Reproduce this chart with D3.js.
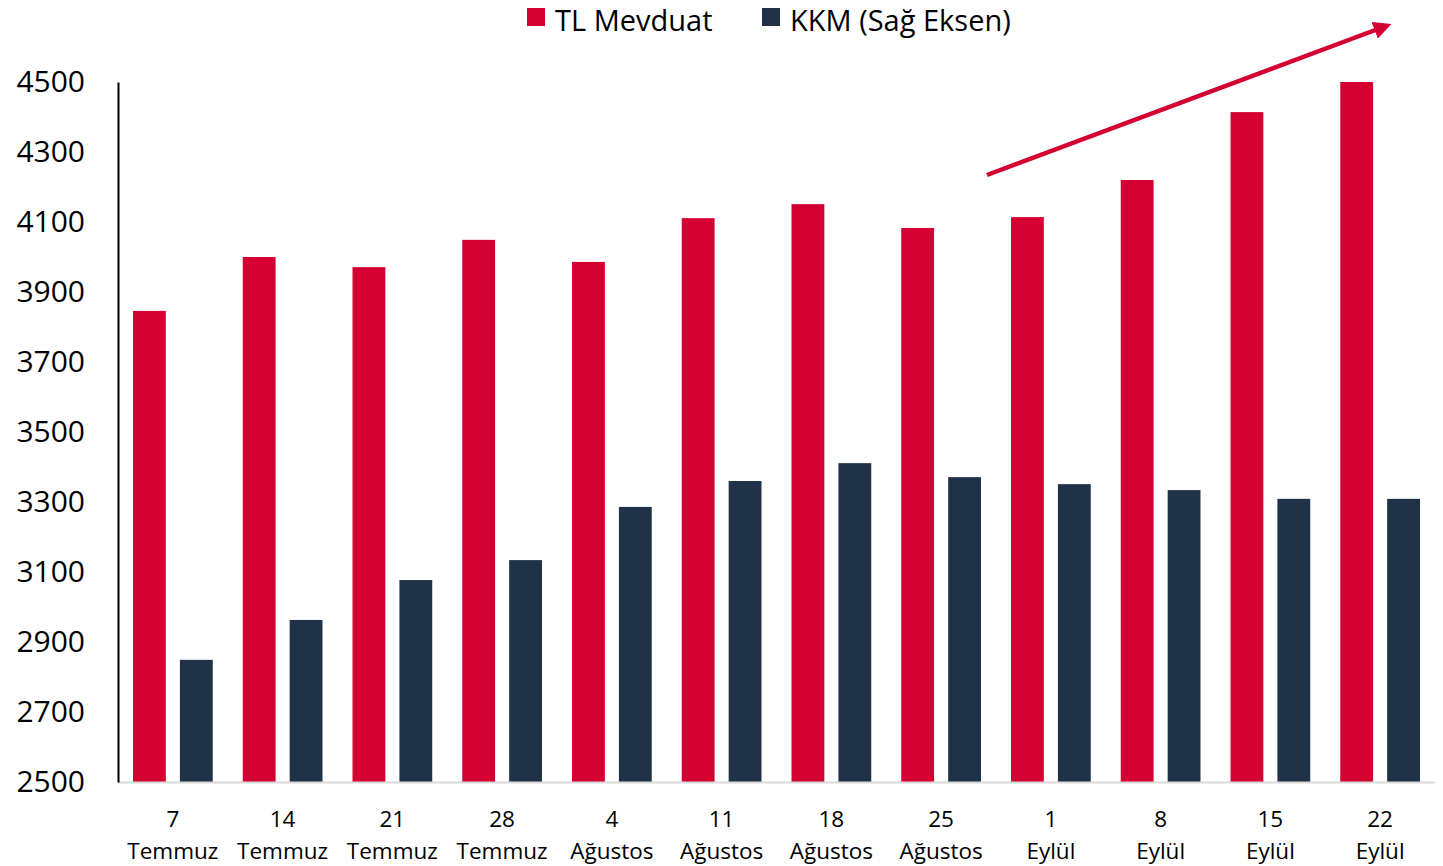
<!DOCTYPE html>
<html><head><meta charset="utf-8">
<script src="https://cdn.jsdelivr.net/npm/d3@7"></script>
<style>body{margin:0;background:#fff;}svg{display:block;font-family:"Open Sans","Noto Sans",sans-serif;}</style>
</head><body>
<svg id="c" width="1443" height="866"></svg>
<script>
const days = ["7","14","21","28","4","11","18","25","1","8","15","22"];
const months = ["Temmuz","Temmuz","Temmuz","Temmuz","Ağustos","Ağustos","Ağustos","Ağustos","Eylül","Eylül","Eylül","Eylül"];
const tlMevduat = [3846,4000,3971,4049,3986,4111,4151,4083,4114,4220,4414,4500];
const kkm = [2849,2963,3077,3134,3286,3360,3411,3371,3351,3334,3309,3309];
const yTicks = [2500,2700,2900,3100,3300,3500,3700,3900,4100,4300,4500];
const seriesNames = ["TL Mevduat","KKM (Sağ Eksen)"];
const colors = ["#d50032","#1f3247"];

const svg = d3.select("#c");
const mL = 118, mR = 1435, mT = 82, mB = 782;
const x = d3.scaleBand().domain(d3.range(days.length)).range([mL, mR]).padding(0);
const inner = d3.scaleBand().domain([0,1]).range([0, x.bandwidth()]).paddingInner(0.3).paddingOuter(0.32);
const y = d3.scaleLinear().domain([2500,4500]).range([mB, mT]);
const y2 = d3.scaleLinear().domain([2500,4500]).range([mB, mT]);

const g = svg.append("g");
g.selectAll("rect.tl").data(tlMevduat).join("rect").attr("class","tl")
  .attr("x",(d,i)=>x(i)+inner(0)).attr("width",inner.bandwidth())
  .attr("y",d=>y(d)).attr("height",d=>mB-y(d)).attr("fill",colors[0]);
g.selectAll("rect.kkm").data(kkm).join("rect").attr("class","kkm")
  .attr("x",(d,i)=>x(i)+inner(1)).attr("width",inner.bandwidth())
  .attr("y",d=>y2(d)).attr("height",d=>mB-y2(d)).attr("fill",colors[1]);

// x baseline
svg.append("line").attr("x1",mL).attr("x2",mR).attr("y1",mB+0.5).attr("y2",mB+0.5)
  .attr("stroke","#d9d9d9").attr("stroke-width",2);

// y axis
const ya = svg.append("g").attr("transform",`translate(${mL},0)`)
  .call(d3.axisLeft(y).tickValues(yTicks).tickSize(0).tickPadding(33).tickFormat(d3.format("d")));
ya.select(".domain").attr("stroke","#000").attr("stroke-width",2);
ya.selectAll("text").attr("font-size",30).attr("fill","#000").attr("font-family","Open Sans, sans-serif");

// x labels
const xl = svg.append("g");
days.forEach((d,i)=>{
  const cx = x(i)+x.bandwidth()/2;
  const t = xl.append("text").attr("text-anchor","middle").attr("font-size",22.5).attr("fill","#000");
  t.append("tspan").attr("x",cx).attr("y",827).text(d);
  t.append("tspan").attr("x",cx).attr("y",859).text(months[i]);
});

// legend
const leg = [{x:527,tx:555},{x:762,tx:790}];
seriesNames.forEach((n,i)=>{
  svg.append("rect").attr("x",leg[i].x).attr("y",8).attr("width",18).attr("height",18).attr("fill",colors[i]);
  svg.append("text").attr("x",leg[i].tx).attr("y",31).attr("font-size",29).attr("fill","#000").text(n);
});

// arrow
svg.append("defs").append("marker").attr("id","ah").attr("viewBox","0 0 10 10")
  .attr("refX",2).attr("refY",5).attr("markerWidth",4).attr("markerHeight",4).attr("orient","auto")
  .append("path").attr("d","M0,0 L10,5 L0,10 z").attr("fill",colors[0]);
svg.append("line").attr("x1",987).attr("y1",175).attr("x2",1378).attr("y2",29)
  .attr("stroke",colors[0]).attr("stroke-width",4.5).attr("marker-end","url(#ah)");
</script>
</body></html>
